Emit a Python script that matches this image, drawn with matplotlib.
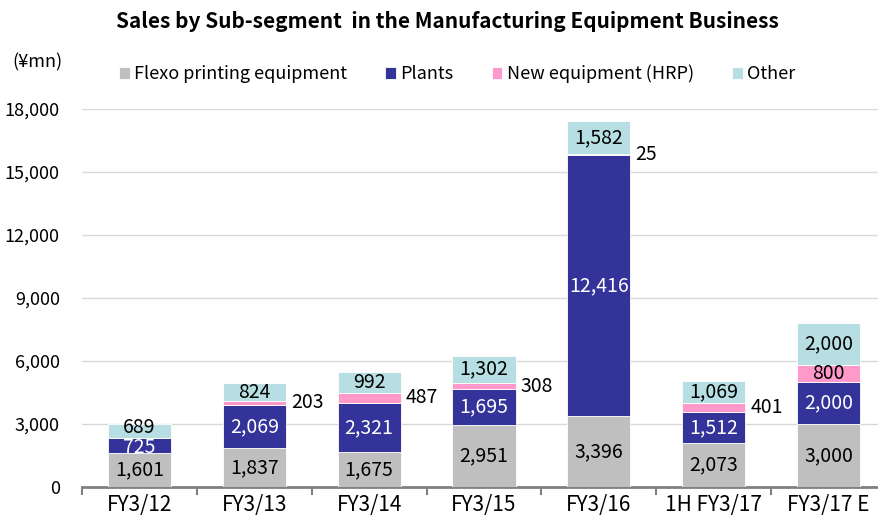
import matplotlib
matplotlib.use("Agg")
import matplotlib.pyplot as plt
import numpy as np

plt.rcParams['font.family'] = ['Noto Sans CJK JP', 'DejaVu Sans']

categories = ["FY3/12", "FY3/13", "FY3/14", "FY3/15", "FY3/16", "1H FY3/17", "FY3/17 E"]
flexo = [1601, 1837, 1675, 2951, 3396, 2073, 3000]
plants = [725, 2069, 2321, 1695, 12416, 1512, 2000]
new_equipment = [0, 203, 487, 308, 25, 401, 800]
other = [689, 824, 992, 1302, 1582, 1069, 2000]
yticks = [0, 3000, 6000, 9000, 12000, 15000, 18000]

series_names = ["Flexo printing equipment", "Plants", "New equipment (HRP)", "Other"]
colors = ["#BFBFBF", "#333399", "#FF99CC", "#B7DEE2"]

W, H = 879, 517
fig = plt.figure(figsize=(W / 100, H / 100), dpi=100)
ax = fig.add_axes([82 / W, 1 - 487 / H, (879 - 82) / W, (487 - 109) / H])

x = np.arange(len(categories))
bw = 0.55
bottom = np.zeros(len(categories))
data = [flexo, plants, new_equipment, other]
for vals, c, name in zip(data, colors, series_names):
    ax.bar(x, vals, bw, bottom=bottom, color=c, edgecolor="white", linewidth=0.6, label=name, zorder=3)
    bottom = bottom + np.array(vals)

fs = 14
cum = np.zeros(len(categories))
for si, vals in enumerate(data):
    for i, v in enumerate(vals):
        if v <= 0:
            continue
        mid = cum[i] + v / 2
        txt = f"{v:,}"
        if si == 1:
            ax.text(x[i], mid - (70 if v < 800 else 0), txt, ha="center", va="center",
                    color="white", fontsize=fs, zorder=5)
        elif si == 2:
            if categories[i] == "FY3/17 E":
                ax.text(x[i], mid, txt, ha="center", va="center", color="black", fontsize=fs, zorder=5)
            else:
                ax.text(x[i] + 0.32, mid, txt, ha="left", va="center", color="black", fontsize=fs, zorder=5)
        elif si == 0:
            ax.text(x[i], mid, txt, ha="center", va="center", color="black", fontsize=fs, zorder=5)
        else:
            ax.text(x[i], mid + (140 if v < 800 else 0), txt, ha="center", va="center",
                    color="black", fontsize=fs, zorder=5)
    cum = cum + np.array(vals)

ax.set_xlim(-0.5, 6.44)
ax.set_ylim(0, 18000)
ax.set_yticks(yticks)
ax.set_yticklabels([f"{t:,}" for t in yticks], fontsize=13)
ax.yaxis.grid(True, color="#D9D9D9", linewidth=1.0, zorder=0)
ax.set_axisbelow(True)
ax.tick_params(axis="y", length=0, pad=16)

ax.set_xticks(x)
ax.set_xticklabels(categories, fontsize=15)
ax.tick_params(axis="x", length=0, pad=5)
ax.set_xticks(np.arange(-0.5, 6.0, 1.0), minor=True)
ax.tick_params(axis="x", which="minor", length=6, width=1.5, color="#808080", direction="out")

for s in ["top", "right", "left"]:
    ax.spines[s].set_visible(False)
ax.spines["bottom"].set_color("#808080")
ax.spines["bottom"].set_linewidth(2.0)

fig.text(447 / W, 1 - 22 / H, "Sales by Sub-segment  in the Manufacturing Equipment Business",
         ha="center", va="center", fontsize=15, fontweight="bold")
fig.text(37 / W, 1 - 62 / H, "(¥mn)", ha="center", va="center", fontsize=13)

leg = fig.legend(loc="center left", bbox_to_anchor=(119 / W, 1 - 74 / H), ncol=4, frameon=False,
                 fontsize=13, handlelength=0.6, handleheight=0.6, handletextpad=0.25, columnspacing=2.1,
                 borderaxespad=0, borderpad=0)

fig.savefig("out.png", dpi=100)
